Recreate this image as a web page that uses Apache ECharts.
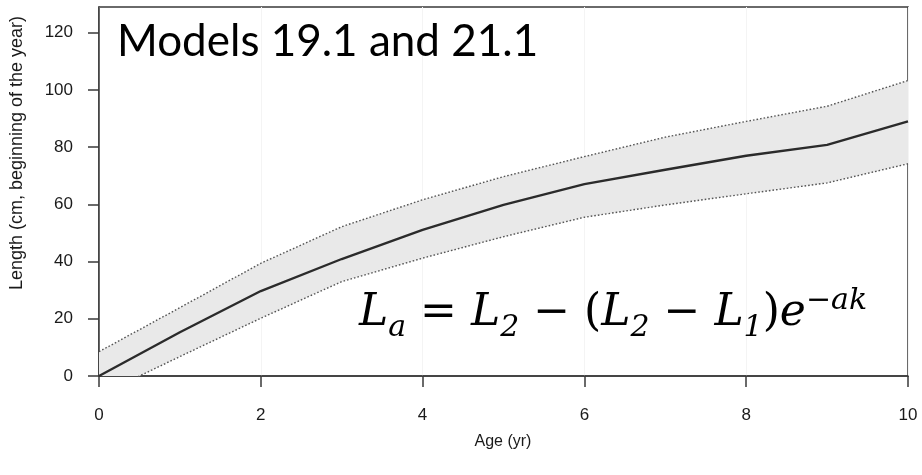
<!DOCTYPE html>
<html>
<head>
<meta charset="utf-8">
<script src="https://cdn.jsdelivr.net/npm/echarts@6/dist/echarts.min.js"></script>
<style>
  html, body { margin: 0; padding: 0; background: #fff; }
  #chart { width: 922px; height: 475px; }
</style>
</head>
<body>
<div id="chart"></div>
<script>
// Length at age: estimate with its interval
const ages = [0, 1, 2, 3, 4, 5, 6, 7, 8, 9, 10];
const meanLength = [0, 15.3, 29.7, 40.9, 51.1, 59.8, 67.1, 72.1, 77.0, 80.8, 89.0];
const upperLength = [8.5, 23.9, 39.4, 52.2, 61.6, 69.7, 76.7, 83.5, 89.0, 94.3, 103.3];
const lowerLength = [-6.8, 6.8, 20.2, 33.0, 41.2, 48.7, 55.5, 59.8, 63.7, 67.5, 74.2];

// Axis ticks
const xTicks = [0, 2, 4, 6, 8, 10];
const yTicks = [0, 20, 40, 60, 80, 100, 120];

const pairs = (vals) => ages.map((a, i) => [a, vals[i]]);
const bandRows = ages.map((a, i) => [a, lowerLength[i], upperLength[i]]);

const axisColor = '#3a3a3a';
const labelFont = { fontFamily: 'Liberation Sans, Arial, sans-serif', fontSize: 17, color: '#1a1a1a' };

const chart = echarts.init(document.getElementById('chart'), null, { renderer: 'canvas' });

// Shaded interval: one polygon through the upper bound and back along the lower bound
function renderBand(params, api) {
  if (params.dataIndex !== 0) return null;
  const top = bandRows.map(r => api.coord([r[0], r[2]]));
  const bottom = bandRows.map(r => api.coord([r[0], r[1]])).reverse();
  return {
    type: 'polygon',
    shape: { points: top.concat(bottom) },
    style: { fill: '#e9e9e9' },
    silent: true
  };
}

chart.setOption({
  backgroundColor: '#fff',
  animation: false,
  grid: {
    left: 99, right: 14, top: 7, bottom: 99,
    show: true, borderColor: axisColor, borderWidth: 1.5, backgroundColor: 'transparent'
  },
  xAxis: {
    type: 'value', min: 0, max: 10, interval: 2,
    axisLine: { show: true, lineStyle: { color: axisColor, width: 1.5 } },
    axisTick: { show: true, length: 11, lineStyle: { color: axisColor, width: 1.5 }, customValues: xTicks },
    axisLabel: Object.assign({ margin: 31, customValues: xTicks }, labelFont),
    splitLine: { show: true, lineStyle: { color: '#f4f4f4', width: 1 } }
  },
  yAxis: {
    type: 'value', min: 0, max: 129,
    axisLine: { show: true, lineStyle: { color: axisColor, width: 1.5 } },
    axisTick: { show: true, length: 11, lineStyle: { color: axisColor, width: 1.5 }, customValues: yTicks },
    axisLabel: Object.assign({ margin: 26, customValues: yTicks }, labelFont),
    splitLine: { show: false }
  },
  series: [
    {
      name: 'band', type: 'custom', data: bandRows, renderItem: renderBand,
      encode: { x: 0, y: [1, 2] }, clip: true, silent: true, z: 1
    },
    {
      name: 'upper', type: 'line', data: pairs(upperLength),
      symbol: 'none', lineStyle: { color: '#555', width: 1.4, type: [1.6, 2] }, z: 3
    },
    {
      name: 'lower', type: 'line', data: pairs(lowerLength),
      symbol: 'none', lineStyle: { color: '#555', width: 1.4, type: [1.6, 2] }, z: 3
    },
    {
      name: 'mean', type: 'line', data: pairs(meanLength),
      symbol: 'none', lineStyle: { color: '#2b2b2b', width: 2.4 }, z: 4
    }
  ],
  graphic: [
    {
      type: 'text', left: 117, top: 20, z: 10,
      style: { text: 'Models 19.1 and 21.1', font: '44px Lato, "Open Sans", sans-serif', fill: '#000' }
    },
    {
      type: 'text', x: 503, y: 442, z: 10,
      style: {
        text: 'Age (yr)', font: '16px "Liberation Sans", Arial, sans-serif', fill: '#1a1a1a',
        align: 'center', verticalAlign: 'middle'
      }
    },
    {
      type: 'text', x: 17, y: 153, rotation: Math.PI / 2, z: 10,
      style: {
        text: 'Length (cm, beginning of the year)', font: '18px "Liberation Sans", Arial, sans-serif',
        fill: '#1a1a1a', align: 'center', verticalAlign: 'middle'
      }
    },
    {
      type: 'text', left: 359, top: 285, z: 10,
      style: {
        text: '{i|L}{s|a}{n| = }{i|L}{s|2}{n| − (}{i|L}{s|2}{n| − }{i|L}{s|1}{n|)}{i|e}{p|−ak}',
        fill: '#000',
        rich: {
          i: { fontFamily: 'DejaVu Serif', fontStyle: 'italic', fontSize: 44, verticalAlign: 'middle', lineHeight: 56 },
          n: { fontFamily: 'DejaVu Serif', fontSize: 44, verticalAlign: 'middle', lineHeight: 56 },
          s: { fontFamily: 'DejaVu Serif', fontStyle: 'italic', fontSize: 30, verticalAlign: 'middle', lineHeight: 30, padding: [28, 0, 0, 0] },
          p: { fontFamily: 'DejaVu Serif', fontStyle: 'italic', fontSize: 30, verticalAlign: 'middle', lineHeight: 30, padding: [0, 0, 26, 0] }
        }
      }
    }
  ]
});
</script>
</body>
</html>
